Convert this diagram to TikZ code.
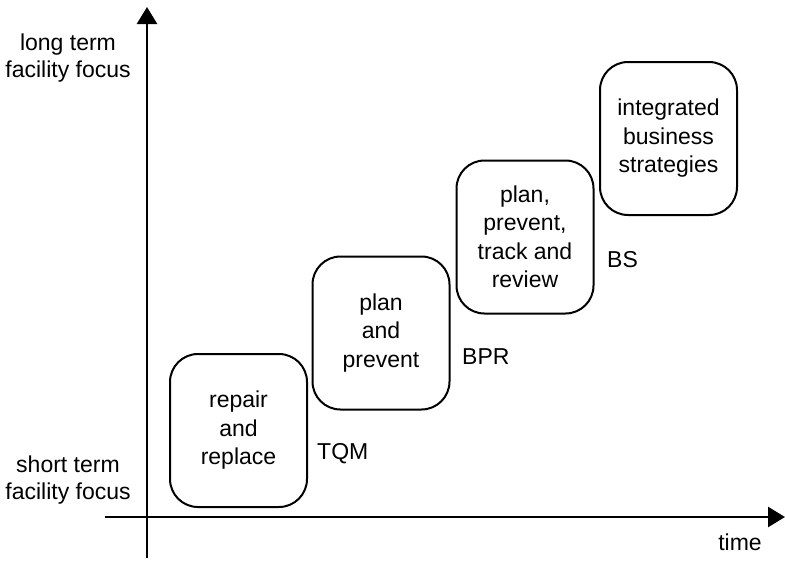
\documentclass[tikz,border=0pt]{standalone}
\usepackage{fontspec}
\setmainfont{Liberation Sans}
\usetikzlibrary{arrows.meta}
\begin{document}
\begin{tikzpicture}[x=1pt,y=-1pt,
  stagebox/.style={draw=black, line width=2pt, rounded corners=28pt,
    minimum width=137pt, minimum height=153pt, align=center, inner sep=0pt,
    font=\fontsize{23}{28.5}\selectfont},
  lbl/.style={inner sep=0pt, font=\fontsize{23}{27.5}\selectfont, align=center},
  axis/.style={line width=2.6pt, -{Triangle[width=20pt,length=17pt]}}]
\useasboundingbox (0,0) rectangle (785,560);
% axes
\coordinate (ybot) at (147,558);
\coordinate (ytop) at (147,7);
\coordinate (xl) at (105,517);
\coordinate (xr) at (785,517);
\draw[axis] (ybot) -- (ytop);
\draw[axis] (xl) -- (xr);
% boxes
\node[stagebox] (b1) at (238.5,430.5) {repair\\and\\replace};
\node[stagebox] (b2) at (381,333) {plan\\and\\prevent};
\node[stagebox] (b3) at (525,237) {plan,\\prevent,\\track and\\review};
\node[stagebox] (b4) at (668.5,138.5) {integrated\\business\\strategies};
% side labels
\node[lbl, anchor=west] (tqm) at (317,454) {TQM};
\node[lbl, anchor=west] (bpr) at (462,357) {BPR};
\node[lbl, anchor=west] (bs) at (607,260) {BS};
% axis labels
\node[lbl] (lt) at (68,58) {long term\\facility focus};
\node[lbl] (st) at (68,480) {short term\\facility focus};
\node[lbl] (time) at (740,542) {time};
\end{tikzpicture}
\end{document}
